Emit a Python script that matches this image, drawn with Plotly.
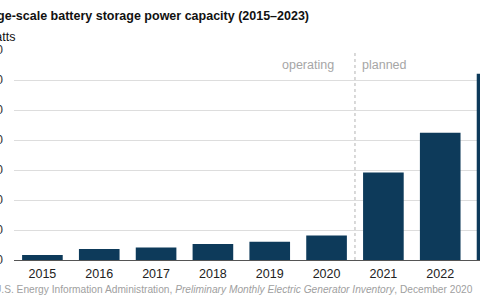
import plotly.graph_objects as go

years = ["2015", "2016", "2017", "2018", "2019", "2020", "2021", "2022", "2023"]
capacity_mw = [333, 733, 840, 1067, 1220, 1640, 5840, 8490, 12420]
y_ticks = [0, 2000, 4000, 6000, 8000, 10000, 12000, 14000]

title_text = "U.S. large-scale battery storage power capacity (2015–2023)"
unit_text = "megawatts"
source_text = ("Source: U.S. Energy Information Administration, "
               "<i>Preliminary Monthly Electric Generator Inventory</i>, December 2020")

FONT = "Arial, Liberation Sans, sans-serif"
BAR = "#0d3a5a"

fig = go.Figure()
fig.add_trace(go.Bar(x=years, y=capacity_mw, marker=dict(color=BAR, line=dict(width=0)),
                     hoverinfo="skip"))

fig.update_layout(
    width=480, height=300,
    margin=dict(l=14, r=0, t=50, b=40),
    paper_bgcolor="white", plot_bgcolor="white",
    showlegend=False,
    bargap=0.285,
    font=dict(family=FONT, color="#222222", size=12),
    xaxis=dict(type="category", range=[-0.5, 7.70], showgrid=False, showline=False,
               ticks="", tickfont=dict(size=12.5, color="#222222"), fixedrange=True,
               ticklabelstandoff=4),
    yaxis=dict(range=[0, 14000], tickvals=y_ticks, tickformat=",d", showgrid=True,
               gridcolor="#dddddd", gridwidth=1, zeroline=True, zerolinecolor="#555555",
               zerolinewidth=1, showline=False, ticks="", automargin=False,
               tickfont=dict(size=12.5, color="#333333"), ticklabelstandoff=10),
)

# operating / planned divider
fig.add_shape(type="line", xref="x", yref="paper", x0=5.5, x1=5.5, y0=0, y1=1,
              line=dict(color="#b3b3b3", width=1, dash="3px,3px"))
fig.add_annotation(xref="x", yref="paper", x=5.5, y=1, xshift=-19, yshift=-15,
                   text="operating", showarrow=False, xanchor="right", yanchor="middle",
                   font=dict(size=12.5, color="#a6a6a6"))
fig.add_annotation(xref="x", yref="paper", x=5.5, y=1, xshift=5, yshift=-15,
                   text="planned", showarrow=False, xanchor="left", yanchor="middle",
                   font=dict(size=12.5, color="#a6a6a6"))

# title, unit, source (cropped at left in reference)
fig.add_annotation(xref="paper", yref="paper", x=0, xshift=-62, y=1, yshift=34,
                   text="<b>" + title_text + "</b>", showarrow=False, xanchor="left",
                   yanchor="middle", font=dict(size=12.5, color="#111111"))
fig.add_annotation(xref="paper", yref="paper", x=0, xshift=-61, y=1, yshift=22,
                   text=unit_text, showarrow=False, xanchor="left", yanchor="top",
                   font=dict(size=12.5, color="#111111"))
fig.add_annotation(xref="paper", yref="paper", x=0, xshift=-60, y=0, yshift=-29,
                   text=source_text, showarrow=False, xanchor="left", yanchor="middle",
                   font=dict(size=10.2, color="#a0a0a0"))

fig.write_html("out.html")
